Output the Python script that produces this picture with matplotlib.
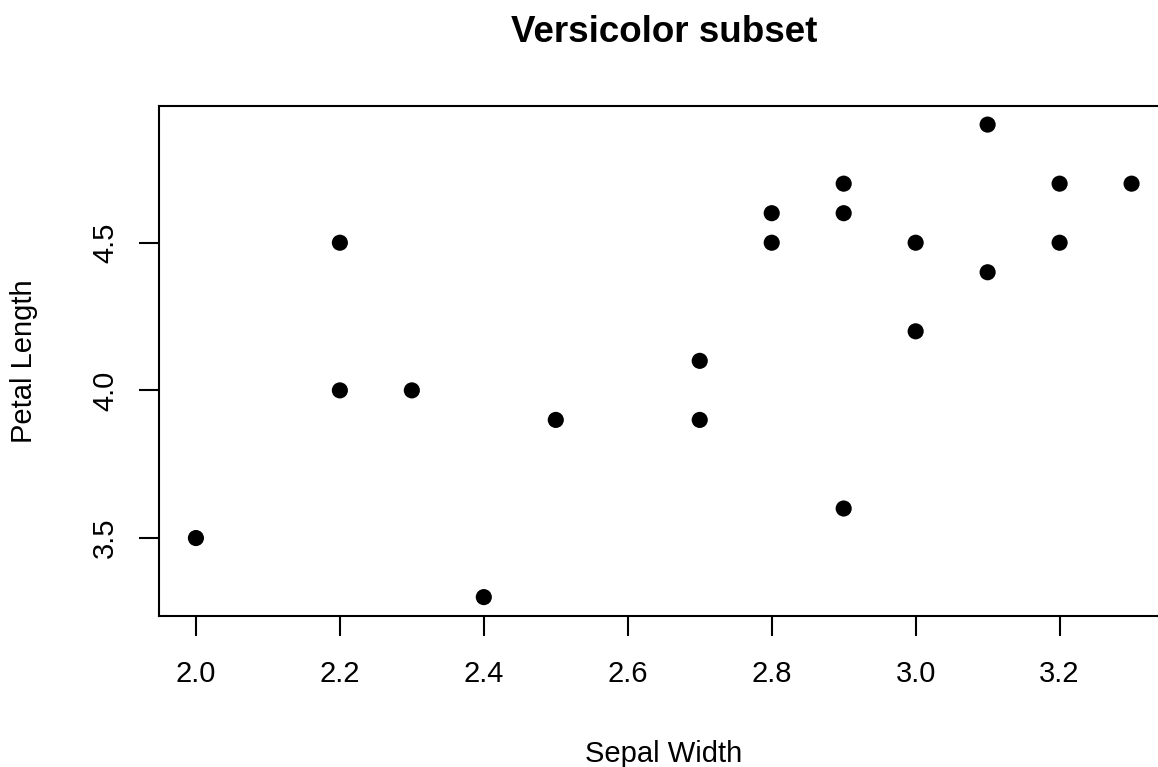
import matplotlib
matplotlib.use("Agg")
import matplotlib.pyplot as plt

plt.rcParams["font.family"] = ["Liberation Sans", "DejaVu Sans"]

# Versicolor subset: sepal width vs petal length
sepal_width = [2.0, 2.2, 2.2, 2.3, 2.4, 2.5, 2.7, 2.7, 2.8, 2.8,
               2.9, 2.9, 2.9, 3.0, 3.0, 3.1, 3.1, 3.2, 3.2, 3.3]
petal_length = [3.5, 4.5, 4.0, 4.0, 3.3, 3.9, 4.1, 3.9, 4.6, 4.5,
                4.7, 4.6, 3.6, 4.5, 4.2, 4.9, 4.4, 4.7, 4.5, 4.7]
x_ticks = [2.0, 2.2, 2.4, 2.6, 2.8, 3.0, 3.2]
y_ticks = [3.5, 4.0, 4.5]

W, H = 1158, 767
fig = plt.figure(figsize=(W / 100, H / 100), dpi=100)

# axes box in pixels (R style, right edge runs past the image)
left, right, top, bottom = 158.5, 1169.0, 105.7, 616.0
ax = fig.add_axes([left / W, (H - bottom) / H, (right - left) / W, (bottom - top) / H])

ax.scatter(sepal_width, petal_length, s=135, color="black", edgecolors="none", zorder=3)

# R's 4% axis padding
def padded(vals):
    lo, hi = min(vals), max(vals)
    d = (hi - lo) * 0.04
    return lo - d, hi + d

ax.set_xlim(*padded(sepal_width))
ax.set_ylim(*padded(petal_length))

ax.set_xticks(x_ticks)
ax.set_xticklabels([f"{v:.1f}" for v in x_ticks])
ax.set_yticks(y_ticks)
ax.set_yticklabels([f"{v:.1f}" for v in y_ticks], rotation=90, va="center")

for s in ax.spines.values():
    s.set_linewidth(1.5)
ax.tick_params(axis="both", direction="out", length=14.4, width=1.5, labelsize=21, colors="black")
ax.tick_params(axis="x", pad=17)
ax.tick_params(axis="y", pad=14)

cx = (left + right) / 2
fig.text(cx / W, (H - 41.7) / H, "Versicolor subset", ha="center", va="baseline",
         fontsize=26.5, fontweight="bold")
fig.text(cx / W, (H - 762) / H, "Sepal Width", ha="center", va="baseline", fontsize=21)
fig.text(32 / W, (H - (top + bottom) / 2) / H, "Petal Length", ha="center", va="baseline",
         rotation=90, rotation_mode="anchor", fontsize=21)

fig.savefig("out.png", dpi=100)
